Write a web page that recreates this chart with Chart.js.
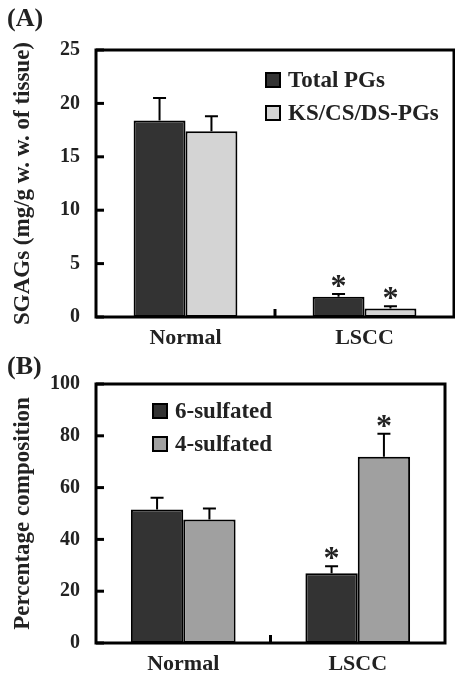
<!DOCTYPE html>
<html>
<head>
<meta charset="utf-8">
<script src="https://cdn.jsdelivr.net/npm/chart.js@4.4.1/dist/chart.umd.min.js"></script>
<style>
  html, body { margin: 0; padding: 0; background: #fff; }
  #wrap { position: relative; width: 455px; height: 674px; overflow: hidden; }
  #chartA { position: absolute; left: 0; top: 0; }
  #chartB { position: absolute; left: 0; top: 340px; }
</style>
</head>
<body>
<div id="wrap">
  <canvas id="chartA" width="455" height="350"></canvas>
  <canvas id="chartB" width="455" height="334"></canvas>
</div>
<script>
// Categories shared by both panels
const categories = ['Normal', 'LSCC'];

// Panel A: SGAGs content (mg/g wet weight)
const totalPGs = [18.4, 1.9];
const totalPGsErr = [2.1, 0.25];
const totalPGsSig = [false, true];
const ksPGs = [17.4, 0.8];
const ksPGsErr = [1.4, 0.2];
const ksPGsSig = [false, true];
const ticksA = [0, 5, 10, 15, 20, 25];

// Panel B: percentage composition
const sulf6 = [51.5, 26.9];
const sulf6Err = [4.6, 2.7];
const sulf6Sig = [false, true];
const sulf4 = [47.7, 71.9];
const sulf4Err = [4.2, 8.9];
const sulf4Sig = [false, true];
const ticksB = [0, 20, 40, 60, 80, 100];

const serif = '"Liberation Serif", "DejaVu Serif", serif';
const textColor = '#222';

// Draws frame, inner ticks, error bars, asterisks, legend and panel letter
const panelDecor = {
    id: 'panelDecor',
    afterDatasetsDraw(chart, args, opts) {
        const ctx = chart.ctx;
        const area = chart.chartArea;
        const xs = chart.scales.x;
        const ys = chart.scales.y;
        ctx.save();

        // error bars + asterisks
        chart.data.datasets.forEach((ds, i) => {
            const meta = chart.getDatasetMeta(i);
            meta.data.forEach((bar, j) => {
                const top = ys.getPixelForValue(ds.data[j] + ds.errors[j]);
                ctx.strokeStyle = '#000';
                ctx.lineWidth = 2;
                ctx.beginPath();
                ctx.moveTo(bar.x, bar.y);
                ctx.lineTo(bar.x, top);
                ctx.moveTo(bar.x - 6.5, top);
                ctx.lineTo(bar.x + 6.5, top);
                ctx.stroke();
                if (ds.stars[j]) {
                    ctx.fillStyle = textColor;
                    ctx.font = 'bold 32px ' + serif;
                    ctx.textAlign = 'center';
                    ctx.textBaseline = 'alphabetic';
                    ctx.fillText('*', bar.x, top + 2);
                }
            });
        });

        // inner y ticks
        ctx.strokeStyle = '#000';
        ctx.lineWidth = 3;
        ys.ticks.forEach(t => {
            const py = ys.getPixelForValue(t.value);
            ctx.beginPath();
            ctx.moveTo(area.left, py);
            ctx.lineTo(area.left + 8, py);
            ctx.stroke();
        });

        // small tick between the two groups
        const mid = (xs.getPixelForValue(0) + xs.getPixelForValue(1)) / 2;
        ctx.beginPath();
        ctx.moveTo(mid, area.bottom);
        ctx.lineTo(mid, area.bottom - 8);
        ctx.stroke();

        // frame
        ctx.lineWidth = 3;
        ctx.strokeRect(area.left, area.top, area.right - area.left, area.bottom - area.top);

        // legend
        ctx.font = 'bold 23px ' + serif;
        ctx.textAlign = 'left';
        ctx.textBaseline = 'middle';
        chart.data.datasets.forEach((ds, i) => {
            const lx = area.left + opts.legendX;
            const ly = area.top + opts.legendY + i * 33;
            ctx.fillStyle = ds.backgroundColor;
            ctx.fillRect(lx, ly - 7, 14, 14);
            ctx.lineWidth = 2;
            ctx.strokeStyle = '#000';
            ctx.strokeRect(lx, ly - 7, 14, 14);
            ctx.fillStyle = textColor;
            ctx.fillText(ds.label, lx + 22, ly + 1);
        });

        // panel letter
        ctx.font = 'bold 26px ' + serif;
        ctx.textBaseline = 'top';
        ctx.fillStyle = textColor;
        ctx.fillText(opts.letter, 7, opts.letterY);

        ctx.restore();
    }
};

function makeOptions(yMax, yStep, yTitle, pad, xHeight, decor) {
    return {
        responsive: false,
        animation: false,
        layout: { padding: pad },
        plugins: {
            legend: { display: false },
            tooltip: { enabled: false },
            panelDecor: decor
        },
        scales: {
            x: {
                grid: { display: false, drawTicks: false },
                border: { display: false },
                ticks: {
                    color: textColor,
                    padding: 8,
                    font: { family: serif, size: 22, weight: 'bold' }
                },
                afterFit(scale) { scale.height = xHeight; }
            },
            y: {
                min: 0,
                max: yMax,
                grid: { display: false, drawTicks: false },
                border: { display: false },
                ticks: {
                    stepSize: yStep,
                    color: textColor,
                    padding: 16,
                    font: { family: serif, size: 20, weight: 'bold' }
                },
                title: {
                    display: true,
                    text: yTitle,
                    color: textColor,
                    padding: { top: 9, bottom: 0 },
                    font: { family: serif, size: 23, weight: 'bold' }
                },
                afterFit(scale) { scale.width = 96; }
            }
        }
    };
}

function barSet(label, data, errors, stars, color, catPct) {
    return {
        label: label,
        data: data,
        errors: errors,
        stars: stars,
        backgroundColor: color,
        borderColor: '#000',
        borderWidth: 2,
        borderSkipped: false,
        barPercentage: 1.0,
        categoryPercentage: catPct
    };
}

new Chart(document.getElementById('chartA'), {
    type: 'bar',
    data: {
        labels: categories,
        datasets: [
            barSet('Total PGs', totalPGs, totalPGsErr, totalPGsSig, '#333333', 0.58),
            barSet('KS/CS/DS-PGs', ksPGs, ksPGsErr, ksPGsSig, '#d4d4d4', 0.58)
        ]
    },
    options: makeOptions(25, 5, 'SGAGs (mg/g w. w. of tissue)',
        { top: 50, right: 1, left: 0, bottom: 0 }, 33,
        { legendX: 170, legendY: 30, letter: '(A)', letterY: 6 }),
    plugins: [panelDecor]
});

new Chart(document.getElementById('chartB'), {
    type: 'bar',
    data: {
        labels: categories,
        datasets: [
            barSet('6-sulfated', sulf6, sulf6Err, sulf6Sig, '#333333', 0.6),
            barSet('4-sulfated', sulf4, sulf4Err, sulf4Sig, '#a0a0a0', 0.6)
        ]
    },
    options: makeOptions(100, 20, 'Percentage composition',
        { top: 44, right: 10, left: 0, bottom: 0 }, 31,
        { legendX: 57, legendY: 27, letter: '(B)', letterY: 14 }),
    plugins: [panelDecor]
});
</script>
</body>
</html>
